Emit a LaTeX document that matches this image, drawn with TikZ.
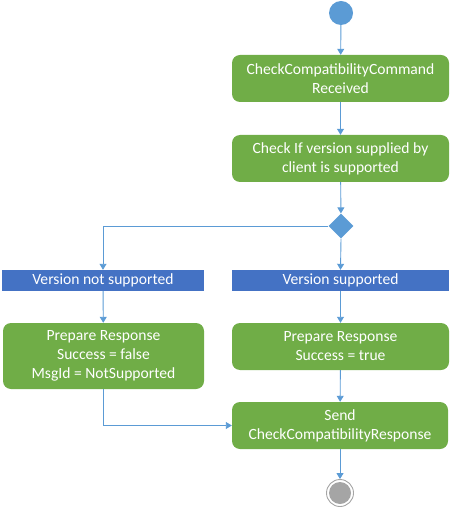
\documentclass[tikz,border=0pt]{standalone}
\usepackage{fontspec}
\setmainfont{Carlito}
\usetikzlibrary{arrows.meta,shapes.geometric}
\definecolor{actgreen}{HTML}{70AD47}
\definecolor{barblue}{HTML}{4472C4}
\definecolor{lineblue}{HTML}{5B9BD5}
\definecolor{endgray}{HTML}{A5A5A5}
\tikzset{
  act/.style={rectangle, rounded corners=8pt, fill=actgreen, text=white, align=center,
    font=\fontsize{15.6}{19}\selectfont, inner sep=0pt},
  bar/.style={rectangle, fill=barblue, text=white, align=center,
    font=\fontsize{15.6}{19}\selectfont, inner sep=0pt, minimum height=21pt},
  flow/.style={draw=lineblue, line width=0.9pt, -{Triangle[length=6pt,width=7pt]}},
}
\begin{document}
\begin{tikzpicture}[x=1pt,y=-1pt]
\useasboundingbox (0,0) rectangle (451,510);
\node[circle, fill=lineblue, minimum size=24pt, inner sep=0pt] (start) at (341,13) {};
\node[act, minimum width=217pt, minimum height=47pt] (b1) at (340.5,78.5) {CheckCompatibilityCommand\\Received};
\node[act, minimum width=217pt, minimum height=47pt] (b2) at (340.5,158.5) {Check If version supplied by\\client is supported};
\node[diamond, fill=lineblue, minimum width=25pt, minimum height=25pt, inner sep=0pt] (d) at (341,226) {};
\node[bar, minimum width=202pt] (barL) at (103,280.5) {Version not supported};
\node[bar, minimum width=217pt] (barR) at (340.5,280.5) {Version supported};
\node[act, minimum width=201pt, minimum height=66pt] (pL) at (103.5,356) {Prepare Response\\Success = false\\MsgId = NotSupported};
\node[act, minimum width=217pt, minimum height=47pt] (pR) at (340.5,346.5) {Prepare Response\\Success = true};
\node[act, minimum width=216pt, minimum height=47pt] (send) at (340,425.5) {Send\\CheckCompatibilityResponse};
\node[circle, draw=endgray, line width=0.9pt, fill=white, minimum size=27pt, inner sep=0pt] (end) at (340,493) {};
\node[circle, fill=endgray, minimum size=22pt, inner sep=0pt] (endin) at (end.center) {};
\draw[flow] (start) -- (b1);
\draw[flow] (b1) -- (b2);
\draw[flow] (b2) -- (d);
\draw[flow] (d.west) -| (barL.north);
\draw[flow] (d.south) -- (barR.north);
\draw[flow] (barL) -- (pL);
\draw[flow] (barR) -- (pR);
\draw[flow] (pR) -- (send);
\draw[flow] (pL.south) |- (send.west);
\draw[flow] (send) -- (end);
\end{tikzpicture}
\end{document}
